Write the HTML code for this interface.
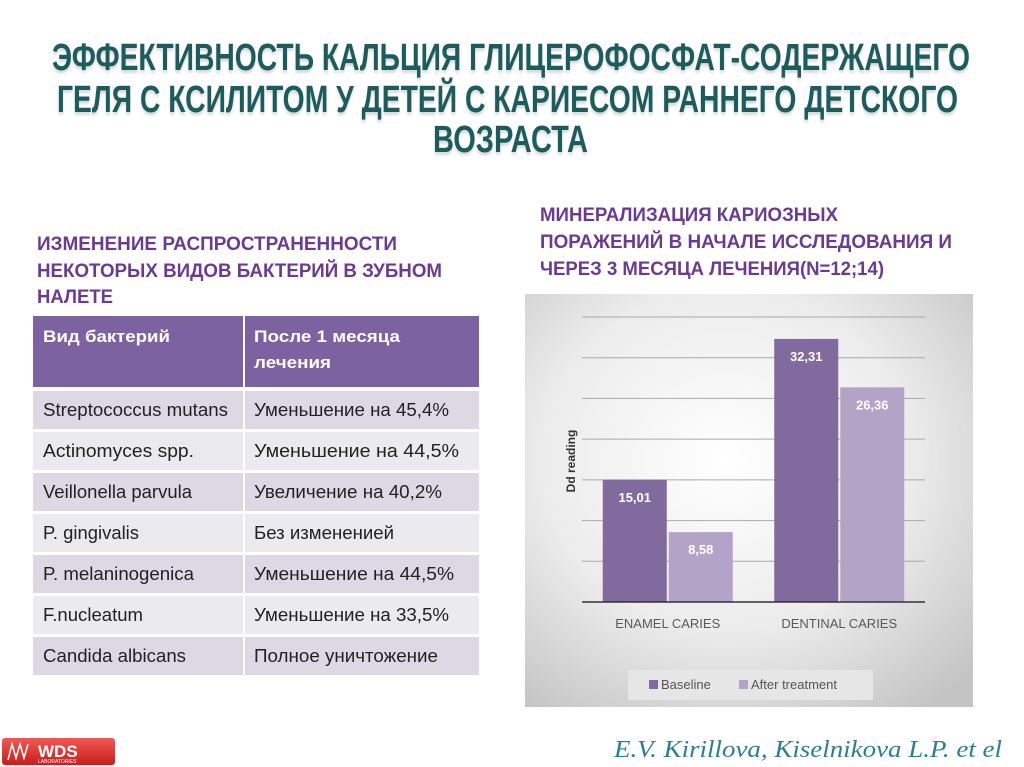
<!DOCTYPE html>
<html><head><meta charset="utf-8"><style>
html,body{margin:0;padding:0;background:#fff;}
svg{display:block;font-family:"Liberation Sans","Noto Sans CJK SC",sans-serif;}
</style></head><body>
<svg id="page" width="1024" height="767" viewBox="0 0 1024 767" xmlns="http://www.w3.org/2000/svg">
<defs>
<radialGradient id="cbg" cx="0.45" cy="0.4" r="0.75">
<stop offset="0" stop-color="#ffffff"/><stop offset="0.55" stop-color="#ececec"/><stop offset="1" stop-color="#c4c4c4"/>
</radialGradient>
<linearGradient id="logo" x1="0" y1="0" x2="0" y2="1"><stop offset="0" stop-color="#f05a50"/><stop offset="1" stop-color="#c81e1e"/></linearGradient>
</defs>
<g fill="#1d5c5c" font-weight="bold" font-size="38" style="text-shadow:0 3px 3px rgba(0,0,0,0.15)">
<text x="52" y="70" textLength="918" lengthAdjust="spacingAndGlyphs">ЭФФЕКТИВНОСТЬ КАЛЬЦИЯ ГЛИЦЕРОФОСФАТ-СОДЕРЖАЩЕГО</text>
<text x="57" y="112" textLength="901" lengthAdjust="spacingAndGlyphs">ГЕЛЯ С КСИЛИТОМ У ДЕТЕЙ С КАРИЕСОМ РАННЕГО ДЕТСКОГО</text>
<text x="433" y="152" textLength="155" lengthAdjust="spacingAndGlyphs">ВОЗРАСТА</text>
</g>
<g fill="#6b3a91" font-weight="bold" font-size="19">
<text x="37" y="250" textLength="360" lengthAdjust="spacingAndGlyphs">ИЗМЕНЕНИЕ РАСПРОСТРАНЕННОСТИ</text>
<text x="37" y="277" textLength="405" lengthAdjust="spacingAndGlyphs">НЕКОТОРЫХ ВИДОВ БАКТЕРИЙ В ЗУБНОМ</text>
<text x="37" y="303" textLength="76" lengthAdjust="spacingAndGlyphs">НАЛЕТЕ</text>
</g>
<g fill="#6b3a91" font-weight="bold" font-size="19">
<text x="540" y="221" textLength="298" lengthAdjust="spacingAndGlyphs">МИНЕРАЛИЗАЦИЯ КАРИОЗНЫХ</text>
<text x="540" y="248" textLength="412" lengthAdjust="spacingAndGlyphs">ПОРАЖЕНИЙ В НАЧАЛЕ ИССЛЕДОВАНИЯ И</text>
<text x="540" y="275" textLength="344" lengthAdjust="spacingAndGlyphs">ЧЕРЕЗ 3 МЕСЯЦА ЛЕЧЕНИЯ(N=12;14)</text>
</g>
<g id="tbl"></g>
<g id="chart">
<rect x="525" y="294" width="448" height="413" fill="url(#cbg)"/>
</g>
<g>
<rect x="2" y="738" width="113" height="27" rx="3" fill="url(#logo)"/>
<path d="M8 760 L12 744 L16 758 L20 744 L24 758 L28 744" stroke="#fff" stroke-width="1.5" fill="none"/>
<text x="38" y="757" fill="#fff" font-weight="bold" font-size="17">WDS</text>
<text x="38" y="763" fill="#fff" font-size="5">LABORATORIES</text>
</g>
<text x="614" y="757" fill="#2a7f95" font-family="Liberation Serif, serif" font-style="italic" font-size="24" textLength="388" lengthAdjust="spacingAndGlyphs">E.V. Kirillova, Kiselnikova L.P. et el</text>
</svg>
<script>
const NS='http://www.w3.org/2000/svg';
const bacteria=['Streptococcus mutans','Actinomyces  spp.','Veillonella parvula','P. gingivalis','P. melaninogenica','F.nucleatum','Candida albicans'];
const effects=['Уменьшение на 45,4%','Уменьшение на   44,5%','Увеличение на 40,2%','Без изменениeй','Уменьшение на  44,5%','Уменьшение на 33,5%','Полное уничтожение'];
const bactW=[185,151,149,96,151,100,143];
const effW=[195,205,188,140,200,195,184];
const categories=['ENAMEL CARIES','DENTINAL CARIES'];
const baseline=[15.01,32.31];
const afterTreatment=[8.58,26.36];
const seriesNames=['Baseline','After treatment'];
const yMax=35, yStep=5;

function mk(tag,attrs,parent){const e=document.createElementNS(NS,tag);for(const k in attrs)e.setAttribute(k,attrs[k]);parent.appendChild(e);return e;}

// table
const tbl=document.getElementById('tbl');
let h=mk('rect',{x:33,y:316,width:446,height:71,fill:'#7c62a0'},tbl);


mk('rect',{x:243,y:316,width:2,height:71,fill:'#fff'},tbl);
[['Вид бактерий',43,342,127],['После 1 месяца',254,342,146],['лечения',254,368,77]].forEach(t=>{
  const e=mk('text',{x:t[1],y:t[2],fill:'#fff','font-weight':'bold','font-size':17,textLength:t[3],lengthAdjust:'spacingAndGlyphs'},tbl);
  e.textContent=t[0];
  
  
});
bacteria.forEach((b,i)=>{
  const y=391+i*41;
  const r=mk('rect',{x:33,y:y,width:446,height:38,fill:i%2?'#ebeaef':'#dcd8e4'},tbl);
  
  
  mk('rect',{x:243,y:y,width:2,height:38,fill:'#fff'},tbl);
  const t1=mk('text',{x:43,y:y+25,fill:'#222','font-size':18,textLength:bactW[i],lengthAdjust:'spacingAndGlyphs'},tbl);
  t1.textContent=b;
  
  
  const t2=mk('text',{x:254,y:y+25,fill:'#222','font-size':18,textLength:effW[i],lengthAdjust:'spacingAndGlyphs'},tbl);
  t2.textContent=effects[i].replace('изменениeй','изменениeй');
  
  
});

// chart
const ch=document.getElementById('chart');
const x0=582,x1=925,y0=602,y1=317;
const ys=v=>y0-(v/yMax)*(y0-y1);
const band=(x1-x0)/categories.length;
for(let v=yStep;v<=yMax;v+=yStep){
  const g=mk('line',{x1:x0,x2:x1,y1:ys(v),y2:ys(v),stroke:'#aaa','stroke-width':1},ch);
  
  
}
const colors=['#806a9e','#b3a4c7'];
const series=[baseline,afterTreatment];
const bw=64;
categories.forEach((c,i)=>{
  const cx=x0+band*(i+0.5);
  series.forEach((s,j)=>{
    const bx=j===0?cx-bw-1:cx+1;
    const r=mk('rect',{x:bx,y:ys(s[i]),width:bw,height:y0-ys(s[i]),fill:colors[j]},ch);
    
    
    const l=mk('text',{x:bx+bw/2,y:ys(s[i])+22,fill:'#fff','font-weight':'bold','font-size':13,'text-anchor':'middle'},ch);
    l.textContent=s[i].toFixed(2).replace('.',',');
    
    
  });
  const t=mk('text',{x:cx,y:628,fill:'#595959','font-size':13,'text-anchor':'middle'},ch);
  t.textContent=c;
  
  
});
const ax=mk('line',{x1:x0,x2:x1,y1:y0,y2:y0,stroke:'#333','stroke-width':1.5},ch);


const yt=mk('text',{x:0,y:0,transform:'translate(575,461) rotate(-90)',fill:'#333','font-weight':'bold','font-size':12,'text-anchor':'middle'},ch);
yt.textContent='Dd reading';


const lg=mk('rect',{x:628,y:670,width:245,height:30,fill:'#e6e6e6'},ch);


[[649,661],[739,751]].forEach((p,j)=>{
  const m=mk('rect',{x:p[0],y:680,width:9,height:9,fill:colors[j]},ch);
  
  
  const t=mk('text',{x:p[1],y:689,fill:'#555','font-size':13},ch);
  t.textContent=seriesNames[j];
  
  
});
</script>
</body></html>
